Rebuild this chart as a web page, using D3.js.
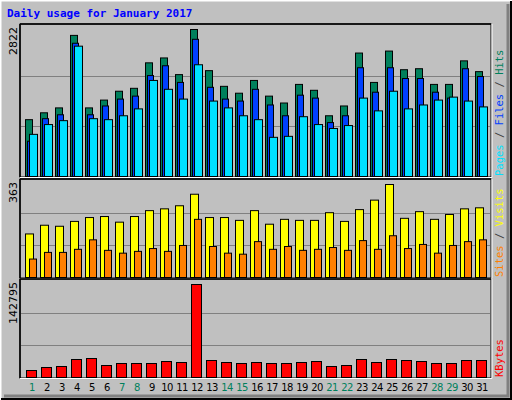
<!DOCTYPE html>
<html><head><meta charset="utf-8">
<script src="https://cdn.jsdelivr.net/npm/d3@7"></script>
<style>body{margin:0;background:#fff}</style>
</head><body><div id="chart"></div>
<script>
const days = d3.range(1, 32);
const weekend = [1, 7, 8, 14, 15, 21, 22, 28, 29];
const hits = [1091,1223,1317,2709,1317,1467,1637,1693,2182,2276,1956,2822,2032,1731,1599,1844,1543,1411,1768,1655,1166,1354,2370,1806,2408,2050,2069,1768,1768,2220,2013];
const files = [677,1110,1185,2558,1185,1354,1486,1543,1938,2126,1806,2634,1712,1486,1448,1674,1373,1166,1561,1505,1035,1166,2088,1618,2088,1881,1881,1618,1505,2069,1919];
const pages = [809,997,1072,2502,1110,1091,1166,1298,1844,1674,1486,2145,1448,1317,1166,1091,752,771,1148,997,922,978,1505,1260,1637,1298,1373,1467,1524,1448,1336];
const visits = [170,204,200,219,234,238,216,238,261,268,280,325,234,234,223,261,208,227,223,223,253,219,265,302,363,231,257,227,246,268,272];
const sites = [72,98,98,110,147,106,95,102,113,102,125,227,121,95,91,140,110,121,106,110,117,106,144,110,163,113,129,95,125,140,147];
const kbytes = [10748,15355,16890,27637,29173,18425,21496,21496,21496,24566,23031,142795,26101,23031,21496,23031,21496,21496,23031,24566,16890,18425,27637,23031,27637,26101,24566,21496,21496,26101,26101];

const W = 512, H = 400;
const svg = d3.select('#chart').append('svg').attr('width', W).attr('height', H)
  .style('font-family', 'DejaVu Sans');

// frame with 3d edges
svg.append('rect').attr('width', W).attr('height', H).attr('fill', '#c0c0c0');
svg.append('path').attr('d', `M0,${H} V0 H${W}`).attr('stroke', '#fff').attr('stroke-width', 3).attr('fill', 'none');
svg.append('path').attr('d', `M1,${H - 1} H${W - 1} V1`).attr('stroke', '#000').attr('stroke-width', 2).attr('fill', 'none');
svg.append('path').attr('d', `M4,${H - 4} H${W - 4} V4`).attr('stroke', '#808080').attr('stroke-width', 3).attr('fill', 'none');

svg.append('text').attr('x', 7).attr('y', 17).text('Daily usage for January 2017')
  .attr('fill', '#0000ff').style('font-family', 'DejaVu Sans Mono').style('font-weight', 'bold').style('font-size', '11px');

const x = d3.scaleBand().domain(days).range([25, 490]);

const panels = [
  { top: 26, base: 176, max: 2822, label: '2822',
    series: [[hits, '#00805c', 0, 7], [files, '#0040ff', 2, 6], [pages, '#00e0ff', 4, 8]],
    legend: [['Pages', '#00e0ff'], ['Files', '#0040ff'], ['Hits', '#00805c']] },
  { top: 181, base: 277, max: 363, label: '363',
    series: [[visits, '#ffff00', 0, 8], [sites, '#ff8000', 4, 7]],
    legend: [['Sites', '#ff8000'], ['Visits', '#ffff00']] },
  { top: 281, base: 377, max: 142795, label: '142795',
    series: [[kbytes, '#ff0000', 1, 10]],
    legend: [['KBytes', '#ff0000']] }
];

panels.forEach(p => {
  const y = d3.scaleLinear().domain([0, p.max]).range([p.base, p.top + 3]);
  const g = svg.append('g');
  g.append('rect').attr('x', 20).attr('y', p.top - 2).attr('width', 471).attr('height', p.base - p.top + 3)
    .attr('fill', '#c0c0c0').attr('stroke', '#000').attr('stroke-width', 1);
  g.append('path').attr('d', `M20,${p.top - 2} H491 M20,${p.top - 2} V${p.base + 1}`)
    .attr('stroke', '#000').attr('stroke-width', 1.5).attr('fill', 'none');
  g.append('path').attr('d', `M20,${p.base + 1.5} H492 V${p.top - 2}`)
    .attr('stroke', '#fff').attr('stroke-width', 1).attr('fill', 'none');
  const h = p.base - p.top;
  [1 / 3, 2 / 3].forEach(f => {
    g.append('line').attr('x1', 21).attr('x2', 490).attr('y1', Math.round(p.top + h * f) + 0.5).attr('y2', Math.round(p.top + h * f) + 0.5)
      .attr('stroke', '#808080').attr('stroke-width', 1);
  });
  p.series.forEach(([vals, color, off, w]) => {
    g.selectAll(null).data(days).join('rect')
      .attr('x', d => x(d) + off + 0.5)
      .attr('y', (d, i) => y(vals[i]) + 0.5)
      .attr('width', w)
      .attr('height', (d, i) => p.base - y(vals[i]))
      .attr('fill', color).attr('stroke', '#000').attr('stroke-width', 1);
  });
  g.append('text').attr('transform', `translate(17,${p.top + 1}) rotate(-90)`).attr('text-anchor', 'end')
    .style('font-size', '11px').attr('fill', '#000').text(p.label);
  const t = g.append('text').attr('transform', `translate(503,${p.base}) rotate(-90)`)
    .style('font-family', 'DejaVu Sans Mono').style('font-size', '10.5px');
  p.legend.forEach(([name, col], i) => {
    if (i > 0) t.append('tspan').attr('fill', '#404040').text(' / ');
    t.append('tspan').attr('fill', col).text(name);
  });
});

svg.append('g').selectAll('text').data(days).join('text')
  .attr('x', d => x(d) + 7).attr('y', 391).attr('text-anchor', 'middle')
  .style('font-size', '10px').style('letter-spacing', '-0.5px')
  .attr('fill', d => weekend.includes(d) ? '#00805c' : '#000')
  .text(d => d);
</script></body></html>
